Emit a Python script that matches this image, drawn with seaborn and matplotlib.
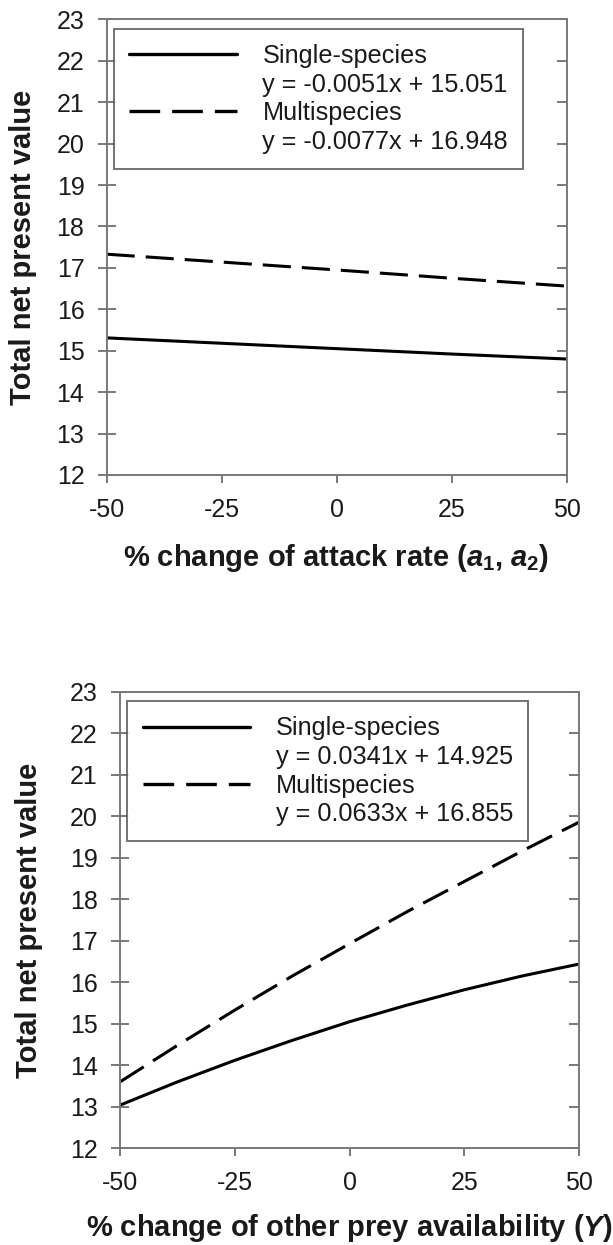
import numpy as np
import pandas as pd
import matplotlib
matplotlib.use("Agg")
import matplotlib.pyplot as plt
from matplotlib.lines import Line2D
import seaborn as sns

# ---- data ----
attack_x = [-50, -25, 0, 25, 50]
attack_single = [15.31, 15.18, 15.05, 14.92, 14.80]
attack_multi = [17.33, 17.14, 16.95, 16.75, 16.56]

prey_x = [-50, -37.5, -25, -12.5, 0, 12.5, 25, 37.5, 50]
prey_single = [13.04, 13.60, 14.12, 14.60, 15.05, 15.45, 15.82, 16.15, 16.44]
prey_multi = [13.60, 14.48, 15.33, 16.15, 16.93, 17.70, 18.43, 19.16, 19.86]

series_names = ["Single-species", "Multispecies"]
attack_eqs = ["y = -0.0051x + 15.051", "y = -0.0077x + 16.948"]
prey_eqs = ["y = 0.0341x + 14.925", "y = 0.0633x + 16.855"]
x_ticks = [-50, -25, 0, 25, 50]
y_ticks = list(range(12, 24))
ylabel = "Total net present value"
xlabel_top = r"% change of attack rate ($a_1$, $a_2$)"
xlabel_bottom = r"% change of other prey availability ($Y$)"

sns.set_theme(style="white")
plt.rcParams["font.family"] = ["Liberation Sans", "DejaVu Sans"]
plt.rcParams["mathtext.fontset"] = "custom"
plt.rcParams["mathtext.rm"] = "Liberation Sans:bold"
plt.rcParams["mathtext.it"] = "Liberation Sans:italic:bold"
plt.rcParams["mathtext.bf"] = "Liberation Sans:bold"

W, H = 613, 1245
fig = plt.figure(figsize=(W / 100, H / 100), dpi=100)
fig.patch.set_facecolor("white")

def px_axes(left, top, right, bottom):
    return fig.add_axes([left / W, 1 - bottom / H, (right - left) / W, (bottom - top) / H])

ax_top = px_axes(106.7, 19.3, 566.5, 475.0)
ax_bot = px_axes(120.0, 691.7, 579.3, 1148.3)

spine_col = "#787878"
text_col = "#1a1a1a"
DASH = (9.2, 3.6)

def draw(ax, xs, single, multi, eqs, xlabel, ylab_x, xlab_y):
    df = pd.DataFrame({
        "x": list(xs) * 2,
        "y": single + multi,
        "series": [series_names[0]] * len(xs) + [series_names[1]] * len(xs),
    })
    sns.lineplot(data=df, x="x", y="y", hue="series", style="series",
                 palette=["black", "black"], dashes=[(None, None), DASH],
                 linewidth=2.2, ax=ax, legend=False)
    ax.set_xlim(-50, 50)
    ax.set_ylim(12, 23)
    ax.set_xticks(x_ticks)
    ax.set_yticks(y_ticks)
    ax.set_xticklabels([str(t) for t in x_ticks], fontsize=18, color=text_col)
    ax.set_yticklabels([str(t) for t in y_ticks], fontsize=18, color=text_col)
    for s in ax.spines.values():
        s.set_visible(True)
        s.set_color(spine_col)
        s.set_linewidth(1.4)
    ax.tick_params(axis="x", bottom=True, top=False, direction="out", length=5.5,
                   width=1.4, color=spine_col, pad=11)
    ax.tick_params(axis="y", left=True, right=False, direction="inout", length=13,
                   width=1.4, color=spine_col, pad=9.5)
    ax2 = ax.twinx()
    ax2.set_ylim(12, 23)
    ax2.set_yticks(y_ticks)
    ax2.tick_params(axis="y", right=True, direction="in", length=7, width=1.4,
                    color=spine_col, labelright=False)
    for s in ax2.spines.values():
        s.set_visible(False)
    ax.set_xlabel(xlabel, fontsize=21, fontweight="bold", color=text_col)
    ax.set_ylabel(ylabel, fontsize=21, fontweight="bold", color=text_col)
    ax.xaxis.set_label_coords(0.5, xlab_y)
    ax.yaxis.set_label_coords(ylab_x, 0.5)

    blank = Line2D([], [], color="none")
    handles = [Line2D([], [], color="black", lw=2.4), blank,
               Line2D([], [], color="black", lw=2.4, dashes=DASH), blank]
    labels = [series_names[0], eqs[0], series_names[1], eqs[1]]
    leg = ax2.legend(handles, labels, loc="upper left",
                     bbox_to_anchor=(0.016, 0.979), borderaxespad=0,
                     fontsize=18.2, frameon=True, fancybox=False,
                     handlelength=4.27, handletextpad=1.0, labelspacing=0.18,
                     borderpad=0.6)
    leg.get_frame().set_edgecolor("#505050")
    leg.get_frame().set_linewidth(1.4)
    for t in leg.get_texts():
        t.set_color(text_col)

draw(ax_top, attack_x, attack_single, attack_multi, attack_eqs, xlabel_top, -0.152, -0.147)
draw(ax_bot, prey_x, prey_single, prey_multi, prey_eqs, xlabel_bottom, -0.168, -0.140)

fig.savefig("out.png", dpi=100, facecolor="white")
